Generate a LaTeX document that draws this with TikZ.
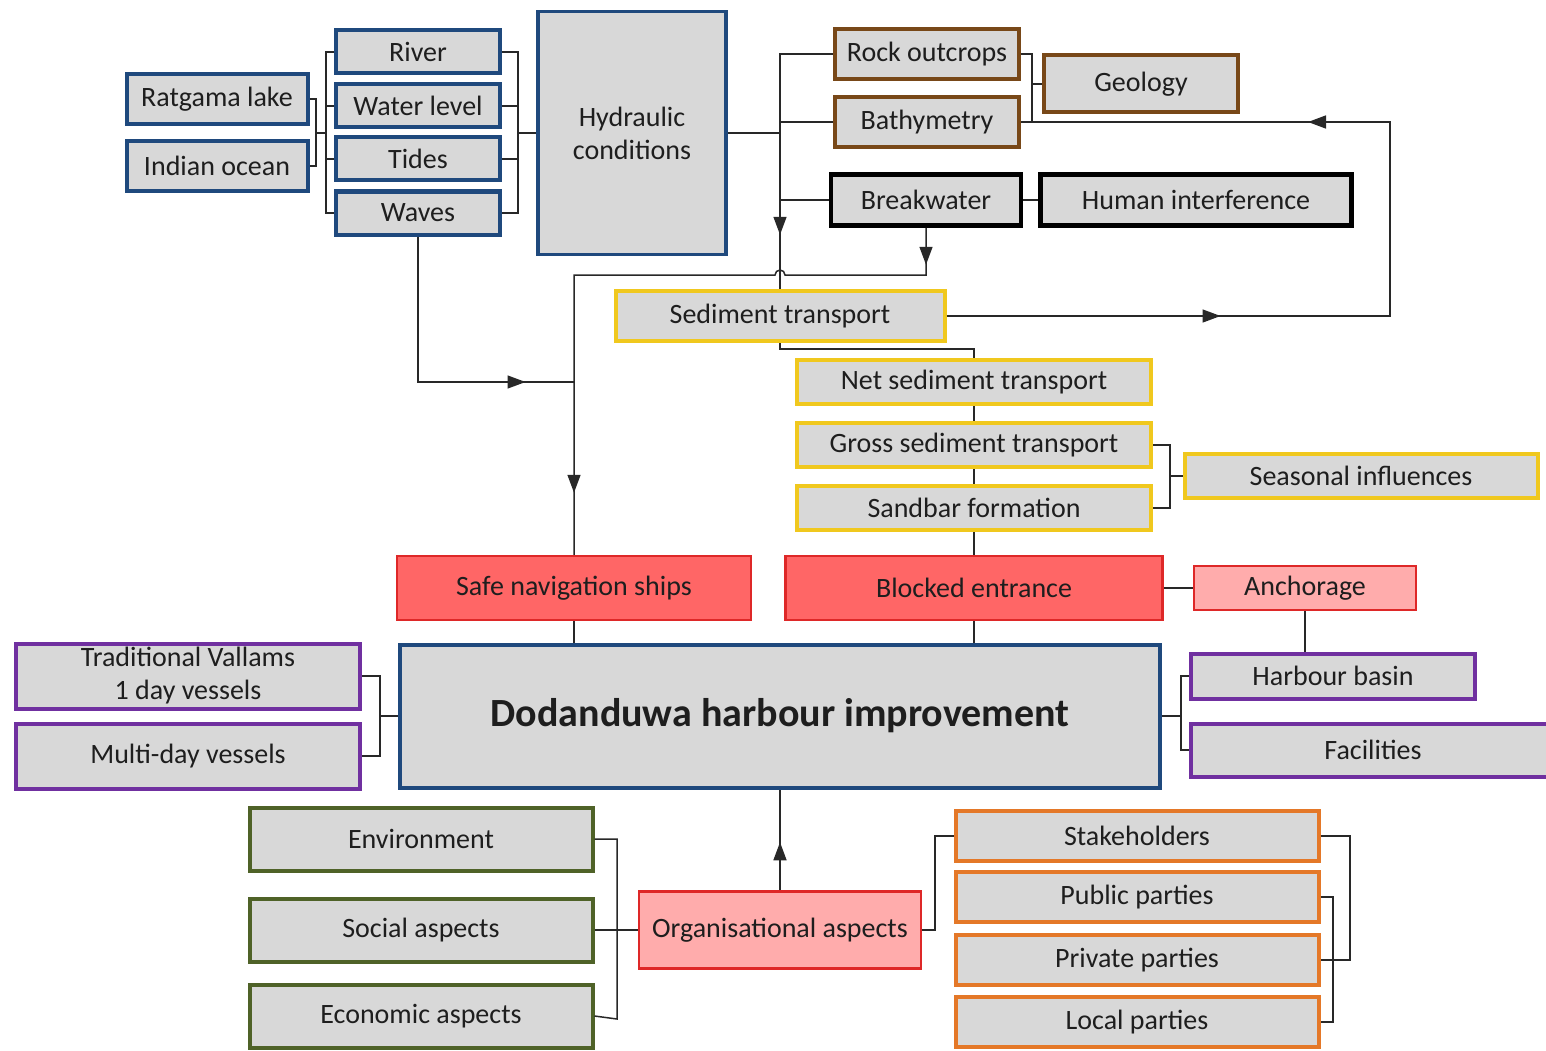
\documentclass[tikz,border=0pt]{standalone}
\usepackage{fontspec}
\setmainfont{Carlito}
\usetikzlibrary{arrows.meta,decorations.markings,calc}
\definecolor{boxgray}{RGB}{216,216,216}
\definecolor{txt}{RGB}{30,30,30}
\definecolor{blueb}{RGB}{31,73,125}
\definecolor{brownb}{RGB}{120,72,24}
\definecolor{yellowb}{RGB}{240,200,30}
\definecolor{redfill}{RGB}{255,102,102}
\definecolor{redb}{RGB}{222,40,40}
\definecolor{pinkfill}{RGB}{255,172,172}
\definecolor{purpleb}{RGB}{112,48,160}
\definecolor{greenb}{RGB}{79,98,40}
\definecolor{orangeb}{RGB}{228,120,40}
\definecolor{linec}{RGB}{40,40,40}
\tikzset{
  bx/.style={draw, fill=boxgray, text=txt, inner sep=0pt, font=\fontsize{28}{33}\selectfont, align=center},
  bluebx/.style={bx, draw=blueb, line width=4pt},
  brownbx/.style={bx, draw=brownb, line width=4pt},
  blackbx/.style={bx, draw=black, line width=4.5pt},
  yellowbx/.style={bx, draw=yellowb, line width=4pt},
  redbx/.style={bx, draw=redb, fill=redfill, line width=2.5pt},
  pinkbx/.style={bx, draw=redb, fill=pinkfill, line width=2.5pt},
  purplebx/.style={bx, draw=purpleb, line width=4pt},
  greenbx/.style={bx, draw=greenb, line width=4pt},
  orangebx/.style={bx, draw=orangeb, line width=4pt},
  conn/.style={draw=linec, line width=1.5pt},
  tipa/.tip={Triangle[length=18pt,width=13pt]},
  amark/.style={postaction={decorate}, decoration={markings, mark=at position #1 with {\arrow{tipa}}}},
  amarks/.style 2 args={postaction={decorate}, decoration={markings, mark=at position #1 with {\arrow{tipa}}, mark=at position #2 with {\arrow{tipa}}}},
}
\begin{document}
\begin{tikzpicture}[x=1pt,y=-1pt]
\useasboundingbox (0,0) rectangle (1546,1051);
% hydraulic group
\node[bluebx, minimum width=181, minimum height=50] (rat) at (217,99) {Ratgama lake};
\node[bluebx, minimum width=181, minimum height=50] (ind) at (217,166) {Indian ocean};
\node[bluebx, minimum width=164, minimum height=43] (river) at (418,52) {River};
\node[bluebx, minimum width=164, minimum height=43] (water) at (418,106) {Water level};
\node[bluebx, minimum width=164, minimum height=43] (tides) at (418,159) {Tides};
\node[bluebx, minimum width=164, minimum height=43] (waves) at (418,213) {Waves};
\node[bluebx, line width=3.5pt, minimum width=188, minimum height=243] (hyd) at (632,133) {Hydraulic\\conditions};
% geology / human
\node[brownbx, minimum width=184, minimum height=50] (rock) at (927,54) {Rock outcrops};
\node[brownbx, minimum width=184, minimum height=50] (bath) at (927,122) {Bathymetry};
\node[brownbx, minimum width=194, minimum height=57] (geo) at (1141,84) {Geology};
\node[blackbx, minimum width=190, minimum height=51] (bwater) at (926,200) {Breakwater};
\node[blackbx, minimum width=311, minimum height=51] (human) at (1196,200) {Human interference};
% sediment
\node[yellowbx, minimum width=329, minimum height=50] (sed) at (780,316) {Sediment transport};
\node[yellowbx, minimum width=354, minimum height=44] (net) at (974,382) {Net sediment transport};
\node[yellowbx, minimum width=354, minimum height=44] (gross) at (974,445) {Gross sediment transport};
\node[yellowbx, minimum width=354, minimum height=44] (sand) at (974,508) {Sandbar formation};
\node[yellowbx, minimum width=353, minimum height=44] (seas) at (1361,476) {Seasonal influences};
% red row
\node[redbx, minimum width=354, minimum height=64] (safe) at (574,588) {Safe navigation ships};
\node[redbx, minimum width=377, minimum height=64] (block) at (974,588) {Blocked entrance};
\node[pinkbx, minimum width=222, minimum height=44] (anch) at (1305,588) {Anchorage};
% centre
\node[bluebx, minimum width=760, minimum height=143, font=\fontsize{40}{44}\selectfont\bfseries] (dod) at (780,716) {Dodanduwa harbour improvement};
\node[purplebx, minimum width=284, minimum height=45] (harb) at (1333,676) {Harbour basin};
\node[purplebx, minimum width=364, minimum height=53] (fac) at (1373,750) {Facilities};
\node[purplebx, minimum width=344, minimum height=65] (trad) at (188,676) {Traditional Vallams\\1 day vessels};
\node[purplebx, minimum width=344, minimum height=65] (multi) at (188,756) {Multi-day vessels};
% bottom
\node[greenbx, minimum width=343, minimum height=63] (env) at (421,839) {Environment};
\node[greenbx, minimum width=343, minimum height=63] (soc) at (421,930) {Social aspects};
\node[greenbx, minimum width=343, minimum height=63] (eco) at (421,1016) {Economic aspects};
\node[pinkbx, minimum width=282, minimum height=77] (org) at (780,930) {Organisational aspects};
\node[orangebx, minimum width=363, minimum height=50] (stake) at (1137,836) {Stakeholders};
\node[orangebx, minimum width=363, minimum height=50] (pub) at (1137,897) {Public parties};
\node[orangebx, minimum width=363, minimum height=50] (priv) at (1137,960) {Private parties};
\node[orangebx, minimum width=363, minimum height=50] (loc) at (1137,1022) {Local parties};
% junction coordinates
\coordinate (jw) at (574,382);
\coordinate (jtop) at (574,275);
% ---- connectors ----
% lake/ocean bracket
\draw[conn] (rat.east) -| (316,166) -- (ind.east);
\draw[conn] (316,133) -- (326,133);
\draw[conn] (river.west) -| (326,213) -- (waves.west);
\draw[conn] (water.west) -- ++(-8,0);
\draw[conn] (tides.west) -- ++(-8,0);
\draw[conn] (river.east) -| (518,213) -- (waves.east);
\draw[conn] (water.east) -- ++(16,0);
\draw[conn] (tides.east) -- ++(16,0);
\draw[conn] (518,133) -- (hyd.west);
% hydraulic to sediment
\draw[conn, amark=154pt] (hyd.east) -| (sed.north);
\draw[conn] (rock.west) -- (rock.west -| sed.north) -- (sed.north |- hyd.east);
\draw[conn] (bath.west) -- (bath.west -| sed.north);
\draw[conn] (bwater.west) -- (bwater.west -| sed.north);
% geology bracket
\draw[conn] (rock.east) -| (1032,122);
\draw[conn] (geo.west) -- ++(-10,0);
\draw[conn] (bwater.east) -- (human.west);
% feedback loop
\draw[conn, amarks={274pt}{-287pt}] (sed.east) -- (1390,316) -- (1390,122) -- (bath.east);
% breakwater to safe navigation (with hop)
\draw[conn, amarks={37pt}{-62pt}] (bwater.south) -- (926,275) -- (785,275) arc[start angle=0, end angle=-180, radius=5] -- (jtop) -- (safe.north);
% waves junction
\draw[conn, amark=253pt] (waves.south) |- (jw);
% sediment chain
\draw[conn] (sed.south) -- ++(0,6) -| (net.north);
\draw[conn] (net.south) -- (gross.north);
\draw[conn] (gross.south) -- (sand.north);
\draw[conn] (sand.south) -- (block.north);
\draw[conn] (block.south) -- (block.south |- dod.north);
\draw[conn] (safe.south) -- (safe.south |- dod.north);
\draw[conn] (gross.east) -| (1170,508) -- (sand.east);
\draw[conn] (seas.west) -- ++(-13,0);
% anchorage
\draw[conn] (block.east) -- (anch.west);
\draw[conn] (anch.south) -- (anch.south |- harb.north);
% right of centre
\draw[conn] (dod.east) -- (1181,716);
\draw[conn] (harb.west) -| (1181,750) -- (fac.west);
% vessels
\draw[conn] (trad.east) -| (380,756) -- (multi.east);
\draw[conn] (380,716) -- (dod.west);
% bottom
\draw[conn, amark=48pt] (org.north) -- (dod.south);
\draw[conn] (env.east) -| (617,1019) -- (eco.east);
\draw[conn] (soc.east) -- (org.west);
\draw[conn] (org.east) -- (935,930) |- (stake.west);
\draw[conn] (stake.east) -| (1350,960) -- (priv.east);
\draw[conn] (pub.east) -| (1333,1022) -- (loc.east);
\end{tikzpicture}
\end{document}
